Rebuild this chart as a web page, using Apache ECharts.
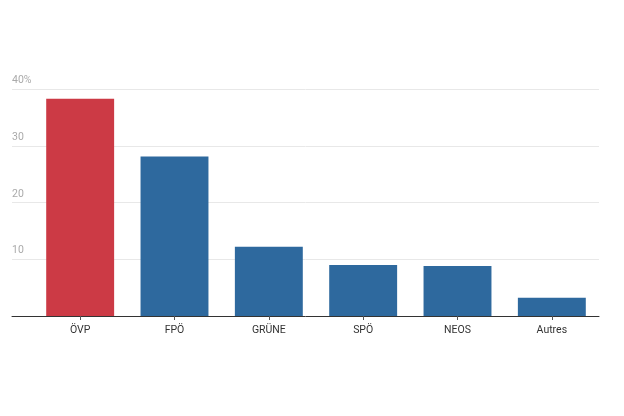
<!DOCTYPE html>
<html><head><meta charset="utf-8">
<script src="https://cdn.jsdelivr.net/npm/echarts@6/dist/echarts.min.js"></script>
<style>html,body{margin:0;padding:0;background:#fff}#c{width:624px;height:416px}</style>
</head><body><div id="c"></div>
<script>
const categories = ['ÖVP', 'FPÖ', 'GRÜNE', 'SPÖ', 'NEOS', 'Autres'];
const values = [38.3, 28.1, 12.2, 9.0, 8.8, 3.2];
const barColors = ['#cc3a45', '#2e699e', '#2e699e', '#2e699e', '#2e699e', '#2e699e'];
const yTicks = [0, 10, 20, 30, 40];

const chart = echarts.init(document.getElementById('c'));
const font = 'Roboto, "Noto Sans", sans-serif';
chart.setOption({
  animation: false,
  grid: [
    {left: 12, right: 25, top: 89, bottom: 100},
    {left: 33, right: 25, top: 89, bottom: 100}
  ],
  xAxis: [
    {gridIndex: 0, type: 'category', data: categories, axisLine: {lineStyle: {color: '#333', width: 1}},
     axisTick: {show: false}, axisLabel: {show: false}},
    {gridIndex: 1, type: 'category', data: categories, axisLine: {show: false},
     axisTick: {show: true, alignWithLabel: true, length: 4, lineStyle: {color: '#555'}},
     axisLabel: {color: '#333', fontSize: 10.5, fontFamily: font, margin: 9}}
  ],
  yAxis: [
    {gridIndex: 0, type: 'value', min: yTicks[0], max: yTicks[yTicks.length - 1], interval: 10,
     axisLine: {show: false}, axisTick: {show: false},
     splitLine: {lineStyle: {color: '#e8e8e8', width: 1}},
     axisLabel: {inside: true, margin: 0, verticalAlign: 'bottom', padding: [0, 0, 3, 0],
       color: '#aaa', fontSize: 10.5, fontFamily: font,
       formatter: v => v === 0 ? '' : (v === 40 ? v + '%' : String(v))}},
    {gridIndex: 1, type: 'value', min: yTicks[0], max: yTicks[yTicks.length - 1], interval: 10, show: false}
  ],
  series: [{
    type: 'bar', xAxisIndex: 1, yAxisIndex: 1, barWidth: '72%',
    data: values.map((v, i) => ({value: v, itemStyle: {color: barColors[i]}})),
    z: 3
  }]
});
</script></body></html>
